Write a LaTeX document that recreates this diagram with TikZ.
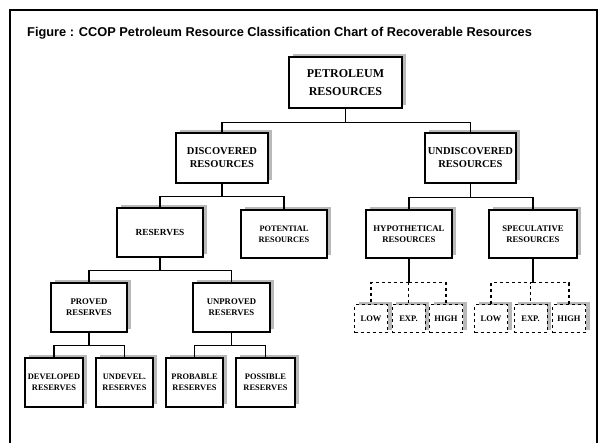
\documentclass[tikz,border=0pt]{standalone}
\usepackage{fontspec}
\setmainfont{Liberation Serif}
\newfontfamily\titlefont{Liberation Sans}
\usetikzlibrary{shadows}

\begin{document}
\begin{tikzpicture}[x=1pt,y=-1pt,
  box/.style={draw,line width=1.3pt,fill=white,align=center,inner sep=1pt,
    font=\bfseries\fontsize{8.7}{11}\selectfont,
    drop shadow={shadow xshift=4pt,shadow yshift=3pt,fill=gray!55,opacity=1}},
  sbox/.style={box,dashed,line width=1pt,minimum width=33pt,minimum height=28pt,font=\bfseries\fontsize{8.5}{10}\selectfont},
  conn/.style={line width=1.6pt},
  dconn/.style={line width=1.1pt,dashed}]
\useasboundingbox (0,0) rectangle (598,443);
\draw[line width=2pt] (10,460) -- (10,10) -- (597,10) -- (597,460);
\node[font=\titlefont\bfseries\fontsize{12.8}{14}\selectfont,anchor=base west,inner sep=0pt] (title) at (27,37) {Figure : CCOP Petroleum Resource Classification Chart of Recoverable Resources};
% top levels
\node[box,minimum width=113pt,minimum height=51pt,font=\bfseries\fontsize{12}{18}\selectfont] (pet) at (345.5,82.5) {PETROLEUM\\RESOURCES};
\node[box,minimum width=92pt,minimum height=50pt,font=\bfseries\fontsize{10.5}{13}\selectfont] (disc) at (222,158) {DISCOVERED\\RESOURCES};
\node[box,minimum width=91pt,minimum height=50pt,font=\bfseries\fontsize{10.5}{13}\selectfont] (undisc) at (470.5,158) {UNDISCOVERED\\RESOURCES};
\node[box,minimum width=86pt,minimum height=49pt,font=\bfseries\fontsize{9.3}{11}\selectfont] (res) at (160,232.5) {RESERVES};
\node[box,minimum width=86pt,minimum height=48pt,font=\bfseries\fontsize{8.3}{11}\selectfont] (pot) at (284,234) {POTENTIAL\\RESOURCES};
\node[box,minimum width=86pt,minimum height=48pt] (hyp) at (409,234) {HYPOTHETICAL\\RESOURCES};
\node[box,minimum width=88pt,minimum height=48pt] (spec) at (533,234) {SPECULATIVE\\RESOURCES};
% reserves split
\node[box,minimum width=76pt,minimum height=49pt] (prov) at (89,307.5) {PROVED\\RESERVES};
\node[box,minimum width=77pt,minimum height=49pt] (unprov) at (231.5,307.5) {UNPROVED\\RESERVES};
\node[box,minimum width=58pt,minimum height=49pt,font=\bfseries\fontsize{8.4}{11}\selectfont] (dev) at (54,382.5) {DEVELOPED\\RESERVES};
\node[box,minimum width=57pt,minimum height=49pt,font=\bfseries\fontsize{8.4}{11}\selectfont] (undev) at (124.5,382.5) {UNDEVEL.\\RESERVES};
\node[box,minimum width=57pt,minimum height=49pt,font=\bfseries\fontsize{8.4}{11}\selectfont] (prob) at (194.5,382.5) {PROBABLE\\RESERVES};
\node[box,minimum width=59pt,minimum height=49pt,font=\bfseries\fontsize{8.4}{11}\selectfont] (poss) at (265.5,382.5) {POSSIBLE\\RESERVES};
% low / exp / high
\node[sbox] (lowa) at (371,319) {LOW};
\node[sbox] (expa) at (408.5,319) {EXP.};
\node[sbox] (higha) at (446,319) {HIGH};
\node[sbox] (lowb) at (491,319) {LOW};
\node[sbox] (expb) at (530.5,319) {EXP.};
\node[sbox] (highb) at (569,319) {HIGH};
% connectors
\draw[conn] (pet.south) -- ++(0,14) -| (disc.north);
\draw[conn] (pet.south) -- ++(0,14) -| (undisc.north);
\draw[conn] (disc.south) -- ++(0,13) -| (res.north);
\draw[conn] (disc.south) -- ++(0,13) -| (pot.north);
\draw[conn] (undisc.south) -- ++(0,14) -| (hyp.north);
\draw[conn] (undisc.south) -- ++(0,14) -| (spec.north);
\draw[conn] (res.south) -- ++(0,13) -| (prov.north);
\draw[conn] (res.south) -- ++(0,13) -| (unprov.north);
\draw[conn] (prov.south) -- ++(0,13) -| (dev.north);
\draw[conn] (prov.south) -- ++(0,13) -| (undev.north);
\draw[conn] (unprov.south) -- ++(0,13) -| (prob.north);
\draw[conn] (unprov.south) -- ++(0,13) -| (poss.north);
\draw[conn] (hyp.south) -- ++(0,24) coordinate (ha);
\draw[dconn] (ha) -| (lowa.north);
\draw[dconn] (ha) -| (expa.north);
\draw[dconn] (ha) -| (higha.north);
\draw[conn] (spec.south) -- ++(0,24) coordinate (hb);
\draw[dconn] (hb) -| (lowb.north);
\draw[dconn] (hb) -| (expb.north);
\draw[dconn] (hb) -| (highb.north);
\end{tikzpicture}
\end{document}
